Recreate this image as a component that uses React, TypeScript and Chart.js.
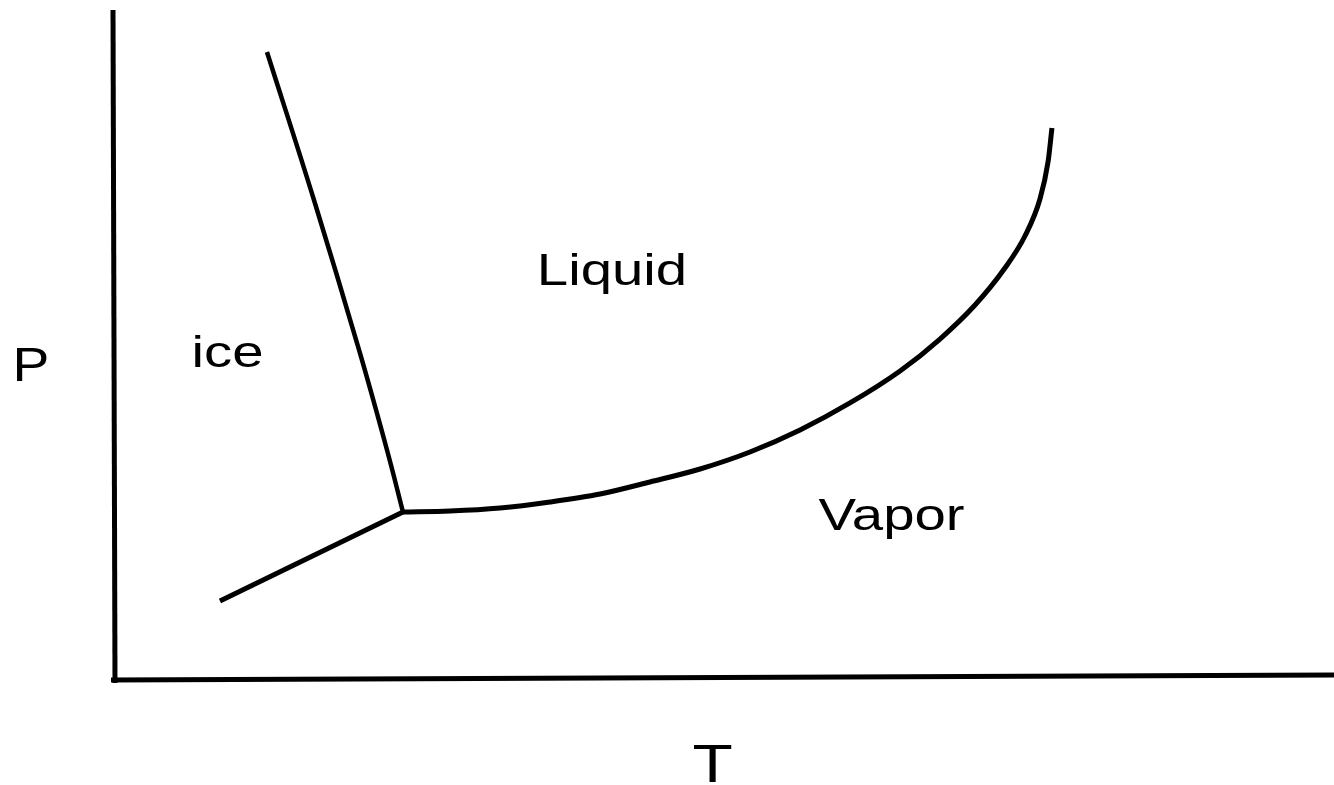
import React, { useEffect, useRef } from "react";
import { Chart, registerables } from "chart.js";

Chart.register(...registerables);

// Phase boundaries (T, P in arbitrary 0-100 units)
const fusionT = [12.61, 16.46, 20.15, 22.44, 23.75];
const fusionP = [93.72, 71.6, 49.18, 34.23, 24.96];

const sublimationT = [8.76, 23.75];
const sublimationP = [11.66, 24.96];

const vaporT = [23.75, 27.6, 31.7, 35.79, 39.89, 43.98, 48.08, 52.17, 56.27, 60.36, 64.46, 67.73, 70.6, 73.05, 74.69, 75.92, 76.58, 76.9];
const vaporP = [24.96, 25.11, 25.56, 26.46, 27.65, 29.45, 31.39, 33.93, 37.22, 41.26, 46.04, 50.82, 55.9, 61.43, 66.22, 71.75, 77.28, 82.36];

// Region labels (text, T, P)
const regionLabels = ["Liquid", "Vapor", "ice"];
const regionT = [40.87, 63.76, 9.38];
const regionP = [58.89, 22.27, 46.64];

const xTitle = "T";
const yTitle = "P";

const toPoints = (xs: number[], ys: number[]) => xs.map((x, i) => ({ x, y: ys[i] }));

const phasePlugin = {
  id: "phasePlugin",
  afterDraw(chart: any) {
    const { ctx, chartArea, scales } = chart;
    const x = scales.x;
    const y = scales.y;
    ctx.save();
    ctx.strokeStyle = "#000";
    ctx.lineCap = "butt";
    // axes
    ctx.lineWidth = 5;
    ctx.beginPath();
    ctx.moveTo(chartArea.left, chartArea.top);
    ctx.lineTo(chartArea.left + 2, chartArea.bottom + 4);
    ctx.stroke();
    ctx.beginPath();
    ctx.moveTo(chartArea.left - 2, chartArea.bottom + 1);
    ctx.lineTo(chartArea.right, chartArea.bottom - 4);
    ctx.stroke();

    ctx.fillStyle = "#000";
    ctx.textAlign = "center";
    ctx.textBaseline = "alphabetic";
    const drawText = (t: string, px: number, py: number, size: number, sx: number) => {
      ctx.save();
      ctx.translate(px, py);
      ctx.scale(sx, 1);
      ctx.font = `${size}px "Liberation Sans", Arial, sans-serif`;
      ctx.fillText(t, 0, 0);
      ctx.restore();
    };
    regionLabels.forEach((t, i) => {
      drawText(t, x.getPixelForValue(regionT[i]), y.getPixelForValue(regionP[i]), 44, 1.28);
    });
    drawText(yTitle, chartArea.left - 82, y.getPixelForValue(44.5), 48, 1.15);
    drawText(xTitle, (chartArea.left + chartArea.right) / 2 - 11, chartArea.bottom + 103, 54, 1.22);
    ctx.restore();
  },
};

export default function App() {
  const ref = useRef<HTMLCanvasElement | null>(null);
  useEffect(() => {
    if (!ref.current) return;
    const chart = new Chart(ref.current, {
      type: "scatter",
      data: {
        datasets: [
          {
            data: toPoints(fusionT, fusionP),
            showLine: true,
            borderColor: "#000",
            borderWidth: 4.5,
            pointRadius: 0,
            tension: 0.4,
          },
          {
            data: toPoints(sublimationT, sublimationP),
            showLine: true,
            borderColor: "#000",
            borderWidth: 5,
            pointRadius: 0,
          },
          {
            data: toPoints(vaporT, vaporP),
            showLine: true,
            borderColor: "#000",
            borderWidth: 5,
            pointRadius: 0,
            cubicInterpolationMode: "monotone",
          },
        ],
      },
      options: {
        animation: false,
        responsive: false,
        maintainAspectRatio: false,
        layout: { padding: { left: 113, top: 10, right: 0, bottom: 106 } },
        plugins: { legend: { display: false }, tooltip: { enabled: false } },
        scales: {
          x: { type: "linear", min: 0, max: 100, display: false },
          y: { type: "linear", min: 0, max: 100, display: false },
        },
      },
      plugins: [phasePlugin],
    });
    return () => chart.destroy();
  }, []);
  return (
    <div style={{ position: "fixed", left: 0, top: 0, width: 1334, height: 785, background: "#fff" }}>
      <canvas ref={ref} width={1334} height={785} style={{ display: "block" }} />
    </div>
  );
}
